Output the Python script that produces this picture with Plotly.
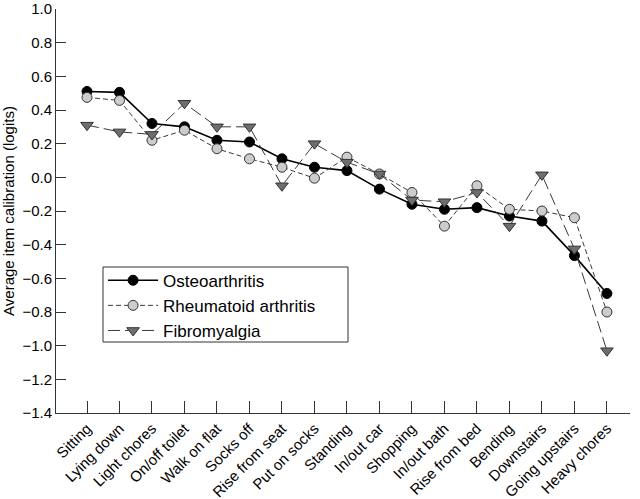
import plotly.graph_objects as go

categories = ["Sitting", "Lying down", "Light chores", "On/off toilet", "Walk on flat",
              "Socks off", "Rise from seat", "Put on socks", "Standing", "In/out car",
              "Shopping", "In/out bath", "Rise from bed", "Bending", "Downstairs",
              "Going upstairs", "Heavy chores"]
osteo = [0.51, 0.505, 0.32, 0.30, 0.22, 0.21, 0.11, 0.06, 0.04, -0.07,
         -0.16, -0.19, -0.18, -0.23, -0.26, -0.465, -0.69]
rheum = [0.475, 0.457, 0.22, 0.28, 0.17, 0.11, 0.06, -0.005, 0.12, 0.02,
         -0.09, -0.29, -0.05, -0.19, -0.20, -0.24, -0.80]
fibro = [0.31, 0.27, 0.255, 0.44, 0.30, 0.30, -0.05, 0.20, 0.09, 0.02,
         -0.135, -0.145, -0.09, -0.29, 0.015, -0.425, -1.03]
yticks = [1.0, 0.8, 0.6, 0.4, 0.2, 0.0, -0.2, -0.4, -0.6, -0.8, -1.0, -1.2, -1.4]

xs = list(range(len(categories)))
fig = go.Figure()
fig.add_trace(go.Scatter(x=xs, y=osteo, name="Osteoarthritis", mode="lines+markers",
                         line=dict(color="black", width=1.6),
                         marker=dict(symbol="circle", size=10, color="black",
                                     line=dict(color="black", width=1))))
fig.add_trace(go.Scatter(x=xs, y=rheum, name="Rheumatoid arthritis", mode="lines+markers",
                         line=dict(color="#3a3a3a", width=1, dash="5px,3px"),
                         marker=dict(symbol="circle", size=10, color="#cccccc",
                                     line=dict(color="#333333", width=1))))
fig.add_trace(go.Scatter(x=xs, y=fibro, name="Fibromyalgia", mode="lines+markers",
                         line=dict(color="#3a3a3a", width=1, dash="12px,5px"),
                         marker=dict(symbol="triangle-down", size=11, color="#6e6e6e",
                                     line=dict(color="#333333", width=1))))

fig.update_layout(
    width=640, height=499,
    margin=dict(l=56, r=10, t=9, b=86),
    paper_bgcolor="white", plot_bgcolor="white",
    font=dict(family="Liberation Sans, Arial, sans-serif", color="black", size=15),
    showlegend=True,
    legend=dict(x=0.082, y=0.372, xanchor="left", yanchor="top",
                borderwidth=0, bgcolor="rgba(0,0,0,0)",
                font=dict(size=17), tracegroupgap=0, itemwidth=50),
    shapes=[dict(type="rect", xref="paper", yref="paper",
                 x0=(103 - 56) / 574, x1=(348 - 56) / 574,
                 y0=(413 - 342) / 404, y1=(413 - 267) / 404,
                 line=dict(color="#333333", width=1), fillcolor="rgba(0,0,0,0)",
                 layer="above")],
)
fig.update_xaxes(range=[-0.954, 16.71], tickmode="array", tickvals=xs, ticktext=categories,
                 tickangle=-45, ticks="inside", ticklen=12, tickcolor="#333333",
                 showline=True, linecolor="#333333", linewidth=1, automargin=False,
                 ticklabeloverflow="allow",
                 showgrid=False, zeroline=False, tickfont=dict(size=15))
fig.update_yaxes(range=[-1.4, 1.0], tickmode="array", tickvals=yticks,
                 ticktext=[f"{v:.1f}".replace("-", "\u2212") for v in yticks],
                 ticks="inside", ticklen=10, tickcolor="#333333",
                 showline=True, linecolor="#333333", linewidth=1, automargin=False,
                 ticklabeloverflow="allow",
                 showgrid=False, zeroline=False, tickfont=dict(size=15),
                 title=dict(text="Average item calibration (logits)", font=dict(size=15), standoff=6))

fig.write_html("out.html", config={"displayModeBar": False},
               post_script="document.body.style.margin='0';")
